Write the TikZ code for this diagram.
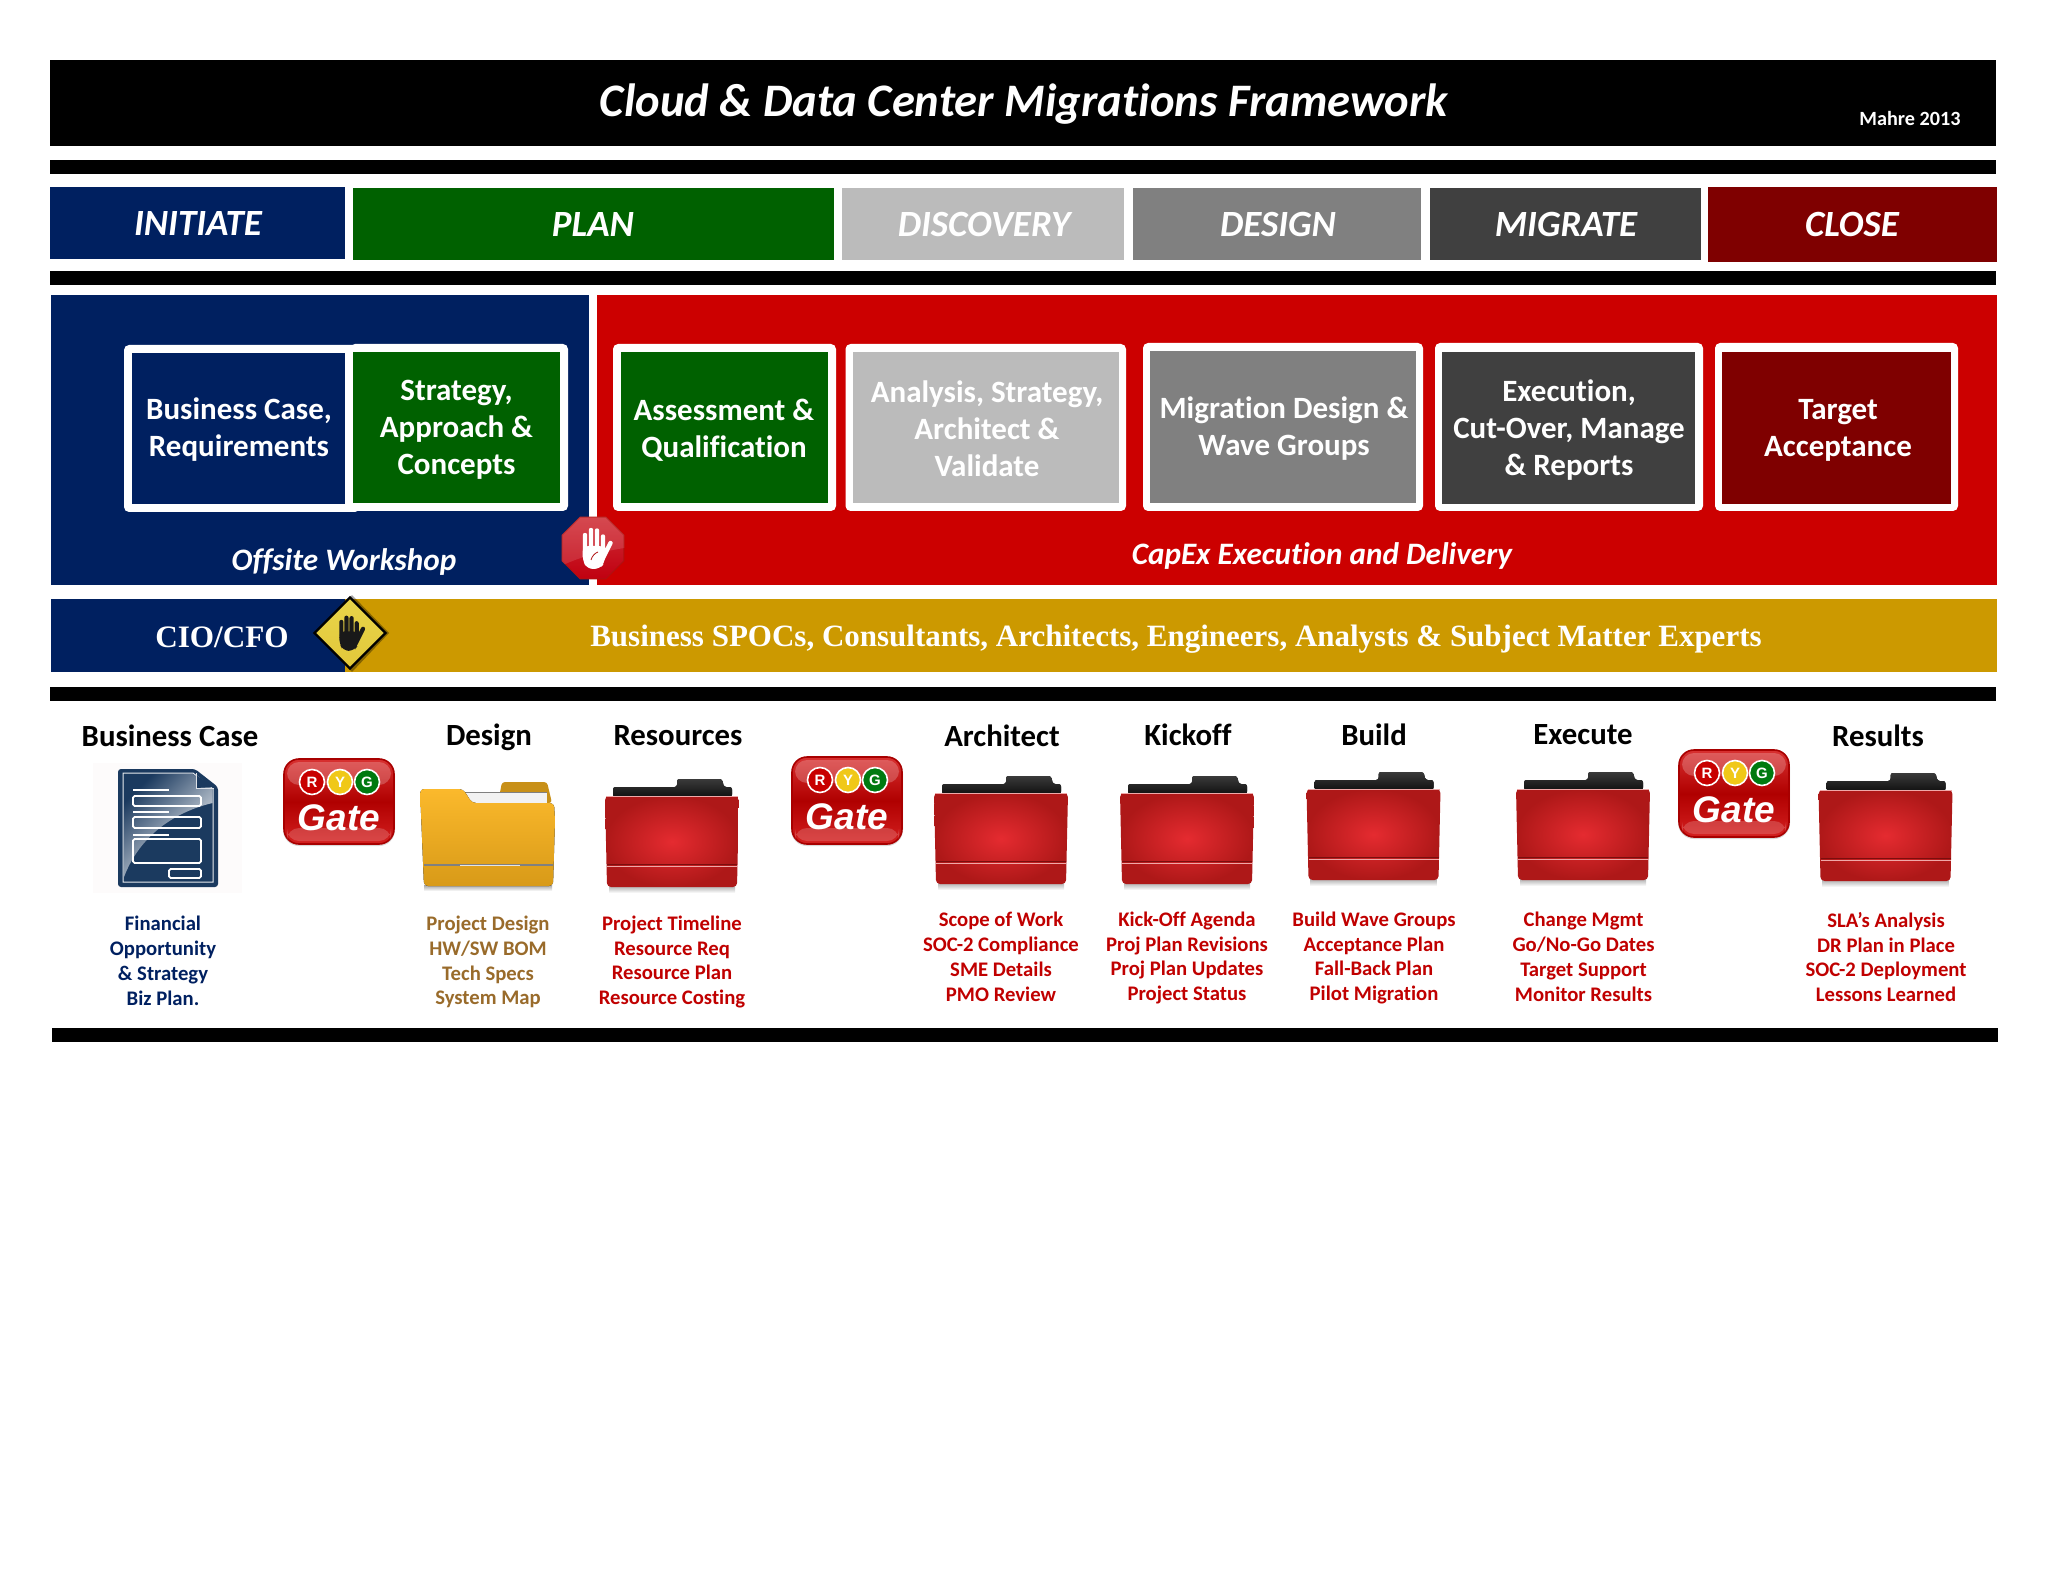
\documentclass[tikz,border=0pt]{standalone}
\usepackage{fontspec}
\setmainfont[RawFeature={-liga}]{Carlito}
\newfontfamily\serifb{Liberation Serif}
\newfontfamily\gatefont{Liberation Sans}
\usetikzlibrary{shapes.geometric}
\definecolor{navyc}{HTML}{002060}
\definecolor{greenc}{HTML}{006100}
\definecolor{lgrayc}{HTML}{BBBBBB}
\definecolor{mgrayc}{HTML}{808080}
\definecolor{dgrayc}{HTML}{404040}
\definecolor{dredc}{HTML}{7F0000}
\definecolor{redc}{HTML}{CC0000}
\definecolor{goldc}{HTML}{CC9900}
\definecolor{listred}{HTML}{C00000}
\definecolor{listbrown}{HTML}{996B2B}
\definecolor{docblue}{HTML}{1B3A5F}
\definecolor{gateedge}{HTML}{A80000}
\definecolor{gatetop}{HTML}{D83030}
\definecolor{gatemid}{HTML}{B00000}
\definecolor{gatebot}{HTML}{D42020}
\definecolor{lampr}{HTML}{C80000}
\definecolor{lampy}{HTML}{F0C818}
\definecolor{lampg}{HTML}{007A10}
\definecolor{tabtop}{HTML}{3A3A3A}
\definecolor{tabbot}{HTML}{111111}
\definecolor{foldin}{HTML}{E52B30}
\definecolor{foldout}{HTML}{AE1818}
\definecolor{folddark}{HTML}{7A0E0E}
\definecolor{foldlite}{HTML}{F0A8A8}
\definecolor{stopedge}{HTML}{B01010}
\definecolor{stoptop}{HTML}{D03038}
\definecolor{stopbot}{HTML}{C00010}
\definecolor{warntop}{HTML}{E8D44A}
\definecolor{warnbot}{HTML}{E2C83A}
\definecolor{docbg}{HTML}{FDFBFB}
\definecolor{yfoldback}{HTML}{C89018}
\definecolor{paperc}{HTML}{F2F2F2}
\definecolor{yfoldtop}{HTML}{FBB92C}
\definecolor{yfoldbot}{HTML}{D89A18}
\tikzset{
  txt/.style={inner sep=0pt,outer sep=0pt,align=center,anchor=center},
  phaselabel/.style={txt,text=white,font=\fontsize{18.5}{22}\selectfont\bfseries\itshape},
  boxlabel/.style={txt,text=white,font=\fontsize{15.5}{18.5}\selectfont\bfseries},
  bandlabel/.style={txt,text=white,font=\fontsize{15.6}{18}\selectfont\bfseries\itshape},
  headlabel/.style={txt,text=black,font=\fontsize{15.4}{18}\selectfont\bfseries},
  listlabel/.style={txt,font=\fontsize{10.35}{12.4}\selectfont\bfseries},
  whitebox/.style={fill=white,rounded corners=2.5pt},
}
% top-left corner x, y: gate badge, 110 px wide
\newcommand{\gatebadge}[3]{%
  \begin{scope}[shift={(#1,#2)}]
    \fill[gray!30,rounded corners=8pt] (-1,1) rectangle (111,#3+2);
    \draw[draw=gateedge,line width=0.8pt,rounded corners=7.5pt,top color=gatetop,bottom color=gatebot,middle color=gatemid] (0,0) rectangle (110,#3);
    \fill[white,opacity=.22,rounded corners=6pt] (3,3) rectangle (107,26);
    \fill[white,opacity=.18,rounded corners=6pt] (3,#3-16) rectangle (107,#3-3);
    \foreach \cx/\cc/\ll in {28/lampr/R,56/lampy/Y,83/lampg/G}{
      \draw[draw=white,line width=.8pt,fill=\cc] (\cx,23) circle (12.5);
      \node[txt,text=white,font=\fontsize{7.5}{8}\gatefont\bfseries] at (\cx,23) {\ll};
    }
    \node[txt,text=white,font=\fontsize{18.5}{20}\gatefont\bfseries\itshape] at (55,#3*0.69) {Gate};
  \end{scope}}
% red folder: centre x, vertical shift
\newcommand{\rfolder}[2]{%
  \begin{scope}[shift={(#1,#2)}]
    \fill[top color=gray!70,bottom color=white] (-63,885) rectangle (63,893);
    \fill[top color=tabtop,bottom color=tabbot,rounded corners=1.2pt] (-59,797) -- (-59,787) -- (5,787) -- (5,779) -- (50,779) -- (52,787) -- (60,787) -- (60,797) -- cycle;
    \shade[inner color=foldin,outer color=foldout,rounded corners=2pt] (-67,796) -- (67,796) -- (65,887) -- (-65,887) -- cycle;
    \draw[foldlite,line width=.5pt] (-66,796.5) -- (66,796.5);
    \draw[folddark,line width=.4pt] (-65,864) -- (65,864);
    \draw[foldlite,line width=.9pt] (-65,866.5) -- (65,866.5);
  \end{scope}}
% hand: centre x, y, scale, colour, stroke width (pt)
\newcommand{\handicon}[5]{%
  \begin{scope}[shift={(#1,#2)},x=#3*0.5pt,y=-#3*0.5pt]
    \fill[#4,rounded corners=3pt] (-11.5,-2) -- (11,-2) -- (11,14) -- (6,21) -- (-7,21) -- (-11.5,12) -- cycle;
    \draw[#4,line width=#5,line cap=round] (-9,2) -- (-9,-13) (-3,2) -- (-3,-18) (3,2) -- (3,-17.5) (9,2) -- (9,-11.5) (8,12) -- (16.5,-5);
  \end{scope}}
\begin{document}
\begin{tikzpicture}[x=0.5pt,y=-0.5pt]
\useasboundingbox (0,0) rectangle (2048,1582);
% header
\fill[black] (50,60) rectangle (1996,146);
\node[txt,text=white,font=\fontsize{23.3}{26}\selectfont\bfseries\itshape] (title) at (1024,104) {Cloud \& Data Center Migrations Framework};
\node[txt,text=white,font=\fontsize{10.1}{11}\selectfont\bfseries] (author) at (1910,118) {Mahre 2013};
% black rules
\fill[black] (50,160) rectangle (1996,174);
\fill[black] (50,271) rectangle (1996,285);
\fill[black] (50,687) rectangle (1996,701);
\fill[black] (52,1028) rectangle (1998,1042);
% phases
\fill[navyc] (50,187) rectangle (345,259);
\fill[greenc] (353,188) rectangle (834,260);
\fill[lgrayc] (842,188) rectangle (1124,260);
\fill[mgrayc] (1133,188) rectangle (1421,260);
\fill[dgrayc] (1430,188) rectangle (1701,260);
\fill[dredc] (1708,187) rectangle (1997,262);
\node[phaselabel] (ph1) at (198,224) {INITIATE};
\node[phaselabel] (ph2) at (593,225) {PLAN};
\node[phaselabel] (ph3) at (984,225) {DISCOVERY};
\node[phaselabel] (ph4) at (1278,225) {DESIGN};
\node[phaselabel] (ph5) at (1566,225) {MIGRATE};
\node[phaselabel] (ph6) at (1852,225) {CLOSE};
% panels
\fill[navyc] (51,295) rectangle (589,585);
\fill[redc] (597,295) rectangle (1997,585);
% boxes
\fill[whitebox] (124,345) rectangle (360,512);
\fill[navyc] (132,353) rectangle (345,504);
\fill[whitebox] (350,344) rectangle (568,511);
\fill[greenc] (353,352) rectangle (560,503);
\fill[whitebox] (613,344) rectangle (836,511);
\fill[greenc] (621,352) rectangle (828,503);
\fill[whitebox] (845.5,344) rectangle (1126,511);
\fill[lgrayc] (853,352) rectangle (1119,503);
\fill[whitebox] (1143,343) rectangle (1423,511);
\fill[mgrayc] (1150,351) rectangle (1416,503);
\fill[whitebox] (1435,343) rectangle (1703,511);
\fill[dgrayc] (1442,352) rectangle (1695,504);
\fill[whitebox] (1715,343) rectangle (1958,511);
\fill[dredc] (1722,352) rectangle (1951,504);
\node[boxlabel] (b1) at (239,430) {Business Case,\\Requirements};
\node[boxlabel] (b2) at (456.5,430) {Strategy,\\Approach \&\\Concepts};
\node[boxlabel] (b3) at (724,430) {Assessment \&\\Qualification};
\node[boxlabel] (b4) at (987,429) {Analysis, Strategy,\\Architect \&\\Validate};
\node[boxlabel] (b5) at (1284,429) {Migration Design \&\\Wave Groups};
\node[boxlabel] (b6) at (1569,430) {Execution,\\Cut-Over, Manage\\\& Reports};
\node[boxlabel] (b7) at (1838,430) {Target\\Acceptance};
\node[bandlabel] (off) at (344,562.5) {Offsite Workshop};
\node[bandlabel] (cap) at (1322,556.5) {CapEx Execution and Delivery};
% stop sign
\node[regular polygon,regular polygon sides=8,minimum size=33.5pt,inner sep=0pt,draw=stopedge,line width=.5pt,top color=stoptop,bottom color=stopbot] (stop) at (593,548) {};
\begin{scope}
  \clip (stop.corner 1) -- (stop.corner 2) -- (stop.corner 3) -- (stop.corner 4) -- (stop.corner 5) -- (stop.corner 6) -- (stop.corner 7) -- (stop.corner 8) -- cycle;
  \fill[white,opacity=.12] (555,510) rectangle (630,545) (555,545) -- (630,545) -- (630,547) .. controls (600,552) and (580,556) .. (555,569) -- cycle;
\end{scope}
\handicon{594}{548}{1}{white}{2.2pt}
\draw[stopedge,line width=.4pt] (591,560) .. controls (592,556) and (595,553) .. (598,552);
% role band
\fill[navyc] (51,599) rectangle (345,672);
\fill[goldc] (345,599) rectangle (1997,672);
\node[txt,text=white,font=\fontsize{15.6}{20}\serifb\bfseries] (cio) at (222,637) {CIO/CFO};
\node[txt,text=white,font=\fontsize{15.5}{20}\serifb\bfseries] (spoc) at (1176,639) {Business SPOCs, Consultants, Architects, Engineers, Analysts \& Subject Matter Experts};
\fill[black,opacity=.35] (352,595) -- (389,633) -- (352,672) -- (315,633) -- cycle;
\node[diamond,minimum width=36pt,minimum height=36pt,inner sep=0pt,draw=black,line width=1.2pt,top color=warntop,bottom color=warnbot] (warn) at (350,633) {};
\handicon{349}{633}{.85}{black!90}{2.1pt}
% headers
\node[headlabel] (h1) at (170,736) {Business Case};
\node[headlabel] (h2) at (489,737) {Design};
\node[headlabel] (h3) at (678,736) {Resources};
\node[headlabel] (h4) at (1002,736) {Architect};
\node[headlabel] (h5) at (1188,735) {Kickoff};
\node[headlabel] (h6) at (1374,735) {Build};
\node[headlabel] (h7) at (1583,735) {Execute};
\node[headlabel] (h8) at (1878,736) {Results};
% document icon
\fill[docbg] (93,763) rectangle (242,893);
\fill[docblue,rounded corners=1.5pt] (118,769) -- (195,769) -- (218,787) -- (218,887) -- (118,887) -- cycle;
\draw[white!90!docblue,line width=.5pt] (123,773) -- (193,773) -- (213,789) -- (213,882) -- (123,882) -- cycle;
\shade[top color=docblue,bottom color=white,shading angle=45] (124,774) -- (193,774) -- (212.5,789) -- (212.5,803) .. controls (175,812) and (140,835) .. (124,877) -- cycle;
\fill[docblue] (196,775) -- (214,787) -- (196,788) -- cycle;
\draw[white!85!docblue,line width=.5pt] (196,773) -- (196,788) -- (214,788);
\draw[white,line width=.9pt,rounded corners=.8pt] (133,796) rectangle (201,806) (133,817) rectangle (201,828) (133,839) rectangle (201,863) (169,869) rectangle (201,878);
\draw[white,line width=.9pt] (133,790) -- (169,790) (133,812) -- (169,812) (133,835) -- (169,835);
% gates
\gatebadge{284}{759}{85}
\gatebadge{792}{757}{87}
\gatebadge{1679}{750}{87}
% yellow folder
\fill[top color=gray!70,bottom color=white] (424,885) rectangle (552,891);
\fill[yfoldback,rounded corners=1.5pt] (498,803) -- (502,782) -- (547,782) -- (552,803) -- cycle;
\fill[paperc] (465,792) rectangle (547,803);
\draw[gray,line width=.4pt] (465,792) -- (547,792);
\fill[top color=yfoldtop,bottom color=yfoldbot,rounded corners=2pt] (420,789) -- (463,789) -- (472,803) -- (554,803) -- (555,820) -- (553,886) -- (424,886) -- cycle;
\draw[gray,line width=.8pt] (424,865) -- (553,865);
\draw[white,line width=.4pt,opacity=.8] (460,865) -- (520,865);
% red folders
\rfolder{672}{0}
\rfolder{1001}{-3}
\rfolder{1187}{-3}
\rfolder{1373.5}{-7}
\rfolder{1583}{-7}
\rfolder{1885.5}{-6}
% lists
\node[listlabel,text=navyc] (l1) at (163,961) {Financial\\Opportunity\\\& Strategy\\Biz Plan.};
\node[listlabel,text=listbrown] (l2) at (488,962) {Project Design\\HW/SW BOM\\Tech Specs\\System Map};
\node[listlabel,text=listred] (l3) at (672,962) {Project Timeline\\Resource Req\\Resource Plan\\Resource Costing};
\node[listlabel,text=listred] (l4) at (1001,957) {Scope of Work\\SOC-2 Compliance\\SME Details\\PMO Review};
\node[listlabel,text=listred] (l5) at (1187,958) {Kick-Off Agenda\\Proj Plan Revisions\\Proj Plan Updates\\Project Status};
\node[listlabel,text=listred] (l6) at (1374,958) {Build Wave Groups\\Acceptance Plan\\Fall-Back Plan\\Pilot Migration};
\node[listlabel,text=listred] (l7) at (1583.5,957) {Change Mgmt\\Go/No-Go Dates\\Target Support\\Monitor Results};
\node[listlabel,text=listred] (l8) at (1886,957) {SLA’s Analysis\\DR Plan in Place\\SOC-2 Deployment\\Lessons Learned};
\end{tikzpicture}
\end{document}
